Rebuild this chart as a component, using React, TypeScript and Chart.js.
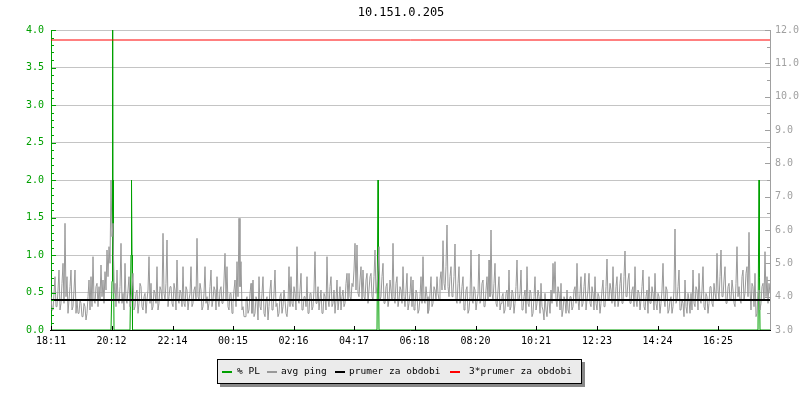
import React, { useEffect, useRef } from "react";
import { Chart, registerables } from "chart.js";

Chart.register(...registerables);

// ---------- data ----------
const TITLE = "10.151.0.205";
const STEP_MIN = 2; // minutes between avg ping samples
const X_MAX = 1438; // minutes covered by the plot

const tickMinutes = [0, 121, 243, 364, 485, 606, 727, 849, 970, 1092, 1213, 1334];
const tickLabels = ["18:11", "20:12", "22:14", "00:15", "02:16", "04:17", "06:18", "08:20", "10:21", "12:23", "14:24", "16:25"];

// avg ping [ms], right axis (one sample per 2 minutes)
const avgPing = [
  4.0, 3.6, 3.6, 4.1, 4.6, 3.7, 3.7, 4.2, 4.8, 3.6, 3.8, 4.4, 5.0, 3.8, 6.2, 4.0, 4.6, 3.5, 3.9, 4.3,
  4.8, 3.6, 3.7, 4.2, 4.8, 3.5, 3.9, 3.5, 3.5, 3.9, 3.8, 3.4, 3.4, 3.8, 3.7, 3.3, 3.5, 4.0, 4.5, 3.6,
  4.6, 3.7, 5.2, 3.9, 3.8, 4.3, 4.4, 3.7, 4.3, 3.9, 4.95, 4.0, 4.5, 3.8, 4.75, 4.2, 5.4, 4.6, 5.5, 5.0,
  7.5, 5.8, 6.2, 4.1, 4.4, 3.7, 4.8, 3.9, 3.8, 4.3, 5.6, 3.8, 4.1, 3.6, 5.0, 3.9, 3.8, 4.2, 4.6, 3.7,
  3.9, 4.3, 4.7, 3.6, 3.7, 4.1, 4.2, 3.5, 3.8, 4.4, 4.3, 3.7, 3.6, 4.0, 4.1, 3.5, 3.9, 4.2, 5.2, 3.8,
  4.4, 3.6, 3.7, 4.2, 4.1, 3.8, 4.9, 3.6, 3.8, 4.3, 4.2, 3.9, 5.9, 4.1, 3.9, 4.4, 5.7, 3.7, 4.0, 4.3,
  4.3, 3.8, 3.7, 4.4, 4.2, 3.6, 5.1, 3.9, 3.8, 4.2, 4.1, 3.7, 4.9, 3.8, 3.7, 4.3, 4.2, 3.6, 3.9, 4.1,
  4.9, 3.7, 3.8, 4.2, 4.3, 3.9, 5.75, 4.0, 3.9, 4.4, 4.2, 3.6, 3.7, 4.1, 4.9, 3.8, 4.0, 3.6, 3.8, 4.3,
  4.8, 3.7, 3.9, 4.3, 4.2, 3.6, 4.6, 3.9, 3.7, 4.2, 4.3, 3.8, 3.8, 4.5, 5.3, 3.9, 4.9, 3.7, 3.6, 4.1,
  4.1, 3.5, 3.8, 4.2, 4.5, 3.7, 5.05, 4.0, 6.35, 4.3, 5.05, 3.6, 3.7, 3.4, 3.4, 3.9, 4.0, 3.5, 3.6, 4.1,
  4.4, 3.5, 4.5, 3.4, 3.5, 4.0, 3.9, 3.3, 4.6, 3.7, 3.6, 4.1, 4.6, 3.5, 3.4, 3.9, 4.0, 3.3, 3.7, 4.2,
  4.5, 3.6, 3.6, 4.1, 4.8, 3.7, 3.8, 3.4, 3.5, 4.0, 4.1, 3.5, 3.7, 4.2, 3.9, 3.5, 3.4, 3.8, 4.9, 3.7,
  4.6, 3.8, 3.7, 4.3, 4.1, 3.6, 5.5, 3.9, 3.8, 4.2, 4.7, 3.6, 3.6, 4.0, 4.0, 3.7, 4.6, 3.5, 3.5, 4.1,
  4.1, 3.6, 3.7, 4.2, 5.35, 3.8, 3.8, 4.3, 3.6, 3.9, 4.2, 3.5, 3.5, 4.1, 4.0, 3.6, 5.2, 3.9, 3.7, 4.3,
  4.6, 3.7, 3.8, 4.2, 3.5, 3.9, 4.5, 3.6, 3.9, 4.3, 3.6, 4.0, 4.2, 3.7, 3.8, 4.4, 4.7, 3.9, 4.7, 4.0,
  3.9, 4.4, 4.3, 4.8, 5.6, 4.2, 5.55, 4.1, 4.0, 4.5, 4.9, 3.9, 4.8, 4.0, 3.9, 4.5, 4.7, 3.8, 4.2, 4.6,
  4.7, 4.0, 3.9, 4.6, 5.4, 4.1, 4.3, 4.8, 5.5, 3.9, 4.0, 4.6, 5.0, 3.8, 3.8, 4.3, 4.4, 3.7, 3.9, 4.5,
  4.2, 3.9, 5.6, 4.0, 3.8, 4.4, 4.6, 3.7, 3.9, 4.3, 4.2, 3.8, 4.9, 4.0, 3.7, 4.2, 4.7, 3.6, 3.8, 4.1,
  4.6, 3.7, 4.5, 3.6, 3.7, 4.2, 4.1, 3.5, 3.6, 4.0, 4.6, 3.8, 5.2, 3.9, 3.8, 4.3, 4.0, 3.5, 3.6, 4.1,
  4.6, 3.7, 3.8, 4.3, 4.2, 3.9, 4.6, 4.1, 3.9, 4.5, 4.75, 4.2, 5.68, 4.4, 4.2, 4.9, 6.15, 4.3, 4.0, 4.6,
  4.9, 4.0, 4.1, 4.6, 5.58, 3.9, 3.8, 4.4, 4.9, 3.8, 3.9, 4.3, 4.6, 3.6, 3.7, 4.2, 4.3, 3.5, 3.6, 4.0,
  5.4, 3.9, 3.8, 4.3, 4.2, 3.6, 3.6, 4.1, 5.28, 3.8, 3.9, 4.4, 4.5, 3.7, 3.7, 4.2, 4.6, 3.9, 5.1, 4.0,
  6.0, 4.1, 3.9, 4.4, 5.0, 3.8, 3.7, 4.2, 4.6, 3.6, 3.8, 4.0, 4.1, 3.5, 3.6, 4.1, 4.2, 3.7, 4.8, 3.6,
  3.7, 4.2, 4.1, 3.5, 3.8, 4.3, 5.1, 3.9, 3.9, 4.1, 4.8, 3.6, 3.6, 4.0, 4.2, 3.5, 4.9, 3.8, 3.7, 4.2,
  4.1, 3.4, 3.5, 4.0, 4.6, 3.6, 3.8, 4.2, 4.0, 3.5, 4.4, 3.7, 3.6, 3.3, 4.1, 3.6, 3.4, 3.9, 3.9, 3.5,
  4.2, 3.8, 5.0, 4.1, 5.05, 3.9, 3.7, 4.3, 4.1, 3.6, 4.4, 3.4, 3.6, 4.0, 3.9, 3.5, 4.2, 3.6, 3.5, 4.0,
  4.0, 3.6, 3.7, 4.2, 4.3, 3.8, 5.0, 3.9, 3.6, 4.1, 4.6, 3.7, 3.8, 4.3, 4.7, 3.6, 3.9, 4.2, 4.7, 3.8,
  3.7, 4.3, 4.1, 3.6, 4.6, 3.8, 3.6, 4.1, 4.0, 3.5, 3.8, 4.2, 4.5, 3.7, 3.7, 4.3, 5.13, 3.9, 3.9, 4.4,
  4.2, 3.8, 4.9, 3.9, 3.7, 4.3, 4.6, 3.7, 3.9, 4.4, 4.7, 3.8, 3.8, 4.6, 5.37, 4.0, 4.0, 4.5, 4.7, 3.8,
  3.8, 4.2, 4.3, 3.7, 4.9, 3.9, 3.7, 4.2, 4.1, 3.6, 3.9, 4.3, 4.8, 3.7, 3.6, 4.0, 4.2, 3.5, 4.6, 3.8,
  3.8, 4.3, 4.1, 3.6, 4.7, 3.8, 3.6, 4.1, 4.0, 3.5, 3.8, 4.2, 5.0, 3.9, 3.7, 4.3, 4.2, 3.5, 3.6, 3.9,
  4.0, 3.5, 3.7, 4.2, 6.03, 3.8, 3.9, 4.3, 4.8, 3.6, 3.6, 3.9, 3.8, 3.4, 4.5, 3.7, 3.5, 4.1, 3.9, 3.5,
  4.1, 3.6, 4.8, 3.8, 3.7, 4.3, 4.2, 3.6, 4.7, 3.9, 3.8, 4.2, 4.9, 3.7, 3.6, 4.1, 4.0, 3.5, 3.8, 4.3,
  4.3, 3.8, 3.7, 4.4, 4.1, 3.9, 5.3, 4.2, 3.9, 4.6, 5.4, 4.0, 4.0, 4.5, 4.9, 3.8, 3.8, 4.3, 4.4, 3.9,
  3.9, 4.5, 4.2, 3.8, 3.7, 4.4, 5.5, 4.0, 4.3, 3.9, 3.8, 4.6, 4.8, 3.9, 4.1, 4.7, 4.9, 4.0, 5.93, 4.2,
  3.6, 4.4, 4.3, 3.7, 4.7, 3.4, 3.5, 4.1, 4.2, 3.6, 3.8, 4.3, 4.4, 3.9, 5.35, 4.0, 4.6, 3.8, 4.4, 4.1,
];

// packet loss [%], left axis
const plMinutes = [0, 120, 122, 123, 124, 125, 126, 158, 160, 161, 162, 163, 652, 654, 655, 656, 1414, 1416, 1417, 1418, 1438];
const plValues = [0, 0, 0.65, 8, 2.0, 1.0, 0, 0, 1.0, 2.0, 1.0, 0, 0, 2.0, 0.75, 0, 0, 2.0, 0.7, 0, 0];

const meanPing = 3.9; // prumer za obdobi [ms]
const meanFactor = 3; // 3*prumer

const legendLabels = ["% PL", "avg ping", "prumer za obdobi", "3*prumer za obdobi"];

// ---------- styles ----------
const GREEN = "#00a000";
const GRAY = "#999999";
const AXIS_GRAY = "#a0a0a0";
const BLACK = "#000000";
const RED = "#ff0000";
const MONO = "'DejaVu Sans Mono', monospace";

const decorPlugin = {
  id: "decor",
  afterDraw(chart: any) {
    const ctx = chart.ctx as CanvasRenderingContext2D;
    const { left, right, bottom } = chart.chartArea;
    const y = chart.scales.y;
    const y1 = chart.scales.y1;
    const x = chart.scales.x;
    ctx.save();
    ctx.lineWidth = 1;

    // left axis ticks (inside)
    ctx.strokeStyle = GREEN;
    for (let k = 0; k <= 40; k++) {
      const py = Math.round(y.getPixelForValue(k / 10)) + 0.5;
      const len = k % 5 === 0 ? 5 : 3;
      ctx.beginPath();
      ctx.moveTo(left, py);
      ctx.lineTo(left + len, py);
      ctx.stroke();
    }
    // right axis ticks (inside)
    ctx.strokeStyle = AXIS_GRAY;
    for (let k = 6; k <= 24; k++) {
      const py = Math.round(y1.getPixelForValue(k / 2)) + 0.5;
      const len = k % 2 === 0 ? 5 : 3;
      ctx.beginPath();
      ctx.moveTo(right, py);
      ctx.lineTo(right - len, py);
      ctx.stroke();
    }
    // bottom axis line + ticks
    ctx.strokeStyle = BLACK;
    ctx.beginPath();
    ctx.moveTo(left - 1, bottom + 0.5);
    ctx.lineTo(right + 1, bottom + 0.5);
    ctx.stroke();
    tickMinutes.forEach((m) => {
      const px = Math.round(x.getPixelForValue(m)) + 0.5;
      ctx.beginPath();
      ctx.moveTo(px, bottom);
      ctx.lineTo(px, bottom - 4);
      ctx.stroke();
    });

    // title
    ctx.fillStyle = BLACK;
    ctx.font = `12px ${MONO}`;
    ctx.textAlign = "center";
    ctx.textBaseline = "middle";
    ctx.fillText(TITLE, 401, 13);

    // legend box
    const bx = 217, by = 359, bw = 364, bh = 24;
    ctx.fillStyle = "#888888";
    ctx.fillRect(bx + 3, by + 3, bw + 1, bh + 1);
    ctx.fillStyle = "#ebebeb";
    ctx.fillRect(bx, by, bw, bh);
    ctx.strokeStyle = BLACK;
    ctx.strokeRect(bx + 0.5, by + 0.5, bw, bh);

    const colors = [GREEN, GRAY, BLACK, RED];
    const swatchX = [222, 267, 335, 450];
    const textX = [237, 281, 349, 469];
    ctx.font = `9.5px ${MONO}`;
    ctx.textAlign = "left";
    ctx.textBaseline = "middle";
    legendLabels.forEach((lab, i) => {
      ctx.fillStyle = colors[i];
      ctx.fillRect(swatchX[i], 371, 10, 2);
      ctx.fillStyle = BLACK;
      ctx.fillText(lab, textX[i], 371.5);
    });
    ctx.restore();
  },
};

export default function App() {
  const ref = useRef<HTMLCanvasElement | null>(null);

  useEffect(() => {
    if (!ref.current) return;
    const font = { family: MONO, size: 10 };
    const chart = new Chart(ref.current, {
      type: "line",
      data: {
        datasets: [
          {
            label: legendLabels[3],
            data: [
              { x: 0, y: meanPing * meanFactor },
              { x: X_MAX, y: meanPing * meanFactor },
            ],
            yAxisID: "y1",
            borderColor: RED,
            borderWidth: 1,
            order: 1,
          },
          {
            label: legendLabels[2],
            data: [
              { x: 0, y: meanPing },
              { x: X_MAX, y: meanPing },
            ],
            yAxisID: "y1",
            borderColor: BLACK,
            borderWidth: 2,
            order: 2,
          },
          {
            label: legendLabels[1],
            data: avgPing.map((v, i) => ({ x: i * STEP_MIN, y: v })),
            yAxisID: "y1",
            borderColor: GRAY,
            borderWidth: 1,
            order: 3,
          },
          {
            label: legendLabels[0],
            data: plMinutes.map((m, i) => ({ x: m, y: plValues[i] })),
            yAxisID: "y",
            borderColor: GREEN,
            borderWidth: 1,
            order: 4,
          },
        ],
      },
      options: {
        animation: false,
        responsive: false,
        layout: { padding: { top: 30, left: 0, right: 0, bottom: 0 } },
        elements: { point: { radius: 0 }, line: { tension: 0 } },
        plugins: {
          legend: { display: false },
          tooltip: { enabled: false },
          title: { display: false },
        },
        scales: {
          x: {
            type: "linear",
            min: 0,
            max: X_MAX,
            grid: { display: true, drawOnChartArea: false, drawTicks: false },
            border: { display: false },
            ticks: {
              padding: 5,
              color: BLACK,
              font,
              maxRotation: 0,
              autoSkip: false,
              callback: (v: any) => {
                const idx = tickMinutes.indexOf(Number(v));
                return idx >= 0 ? tickLabels[idx] : "";
              },
            },
            afterBuildTicks: (s: any) => {
              s.ticks = tickMinutes.map((v) => ({ value: v }));
            },
            afterFit: (s: any) => {
              s.height = 70;
            },
          },
          y: {
            position: "left",
            min: 0,
            max: 4,
            ticks: {
              stepSize: 0.5,
              color: GREEN,
              padding: 7,
              font,
              callback: (v: any) => Number(v).toFixed(1),
            },
            grid: { color: "#c4c4c4", drawTicks: false },
            border: { display: true, color: GREEN },
            afterFit: (s: any) => {
              s.width = 51;
            },
          },
          y1: {
            position: "right",
            min: 3,
            max: 12,
            ticks: {
              stepSize: 1,
              color: AXIS_GRAY,
              padding: 5,
              font,
              callback: (v: any) => Number(v).toFixed(1),
            },
            grid: { display: true, drawOnChartArea: false, drawTicks: false },
            border: { display: true, color: AXIS_GRAY },
            afterFit: (s: any) => {
              s.width = 30;
            },
          },
        },
      } as any,
      plugins: [decorPlugin],
    });
    return () => chart.destroy();
  }, []);

  return (
    <div style={{ position: "absolute", left: 0, top: 0, width: 800, height: 400, background: "#fff" }}>
      <canvas ref={ref} width={800} height={400} style={{ display: "block" }} />
    </div>
  );
}
